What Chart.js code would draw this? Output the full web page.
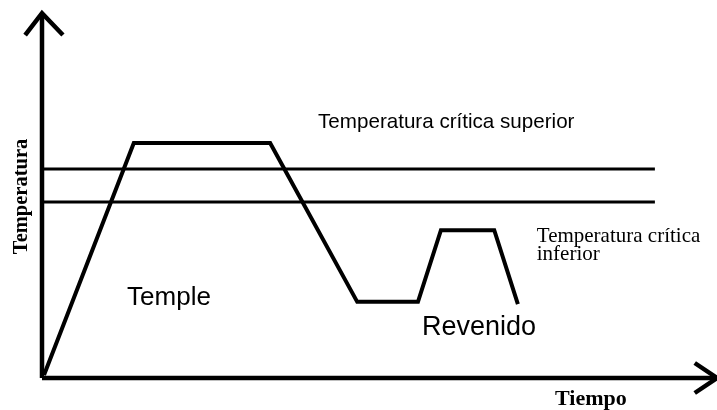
<!DOCTYPE html>
<html>
<head>
<meta charset="utf-8">
<script src="https://cdn.jsdelivr.net/npm/chart.js@4"></script>
<style>
	body { margin: 0; background: #fff; }
	#wrap { width: 717px; height: 410px; position: relative; }
</style>
</head>
<body>
<div id="wrap"><canvas id="myChart"></canvas></div>
<script>
// heat treatment profile (time, temperature), arbitrary units 0-100
const profileTime = [0.3, 13.6, 33.8, 46.7, 55.7, 59.1, 67.0, 70.5];
const profileTemp = [0.8, 64.2, 64.2, 20.8, 20.8, 40.4, 40.4, 20.2];

// critical temperatures
const criticalUpper = 57.1;
const criticalLower = 48.1;
const criticalEnd = 90.8;

const axisMaxTime = 100;
const axisMaxTemp = 99.7;

// text labels: [text, time, temp, font, mode]
const labels = [
	["Temperatura crítica superior", 40.9, 68.3, "20.6px 'Liberation Sans'", "normal"],
	["Temperatura crítica", 73.3, 37.2, "21px 'Liberation Serif'", "normal"],
	["inferior", 73.3, 32.2, "21px 'Liberation Serif'", "normal"],
	["Temple", 12.6, 19.9, "26px 'Liberation Sans'", "normal"],
	["Revenido", 56.3, 11.7, "27px 'Liberation Sans'", "normal"],
	["Tiempo", 76.0, -7.4, "bold 22px 'Liberation Serif'", "normal"],
	["Temperatura", -2.2, 49.6, "bold 20.5px 'Liberation Serif'", "rotated"],
];

function pts(xs, ys) {
	return xs.map((x, i) => ({ x: x, y: ys[i] }));
}

function lineSet(data, width) {
	return {
		data: data,
		borderColor: "#000",
		borderWidth: width,
		pointRadius: 0,
		tension: 0,
		fill: false,
		borderJoinStyle: "miter",
	};
}

const textPlugin = {
	id: "textLabels",
	afterDatasetsDraw(chart) {
		const ctx = chart.ctx;
		const xs = chart.scales.x;
		const ys = chart.scales.y;
		ctx.save();
		ctx.fillStyle = "#000";
		labels.forEach(([txt, t, temp, font, mode]) => {
			const px = xs.getPixelForValue(t);
			const py = ys.getPixelForValue(temp);
			ctx.font = font;
			if (mode === "rotated") {
				ctx.save();
				ctx.translate(px, py);
				ctx.rotate(-Math.PI / 2);
				ctx.textAlign = "center";
				ctx.textBaseline = "alphabetic";
				ctx.fillText(txt, 0, 0);
				ctx.restore();
			} else {
				ctx.textAlign = "left";
				ctx.textBaseline = "alphabetic";
				ctx.fillText(txt, px, py);
			}
		});
		ctx.restore();
	},
};

new Chart(document.getElementById("myChart"), {
	type: "line",
	data: {
		datasets: [
			lineSet(pts(profileTime, profileTemp), 4),
			lineSet(pts([0, criticalEnd], [criticalUpper, criticalUpper]), 3),
			lineSet(pts([0, criticalEnd], [criticalLower, criticalLower]), 3),
			// axes
			lineSet(pts([0, 0], [0, axisMaxTemp]), 4.5),
			lineSet(pts([0, axisMaxTime], [0, 0]), 4.5),
			// arrow heads
			lineSet(pts([-2.5, 0, 3.1], [93.7, axisMaxTemp, 93.7]), 4.5),
			lineSet(pts([96.7, axisMaxTime, 96.7], [4.1, 0, -4.1]), 4.5),
		],
	},
	options: {
		responsive: true,
		maintainAspectRatio: false,
		animation: false,
		layout: { padding: 0 },
		scales: {
			x: { type: "linear", min: -6.222, max: 100, display: false },
			y: { type: "linear", min: -8.743, max: 103.28, display: false },
		},
		plugins: {
			legend: { display: false },
			tooltip: { enabled: false },
		},
	},
	plugins: [textPlugin],
});
</script>
</body>
</html>
